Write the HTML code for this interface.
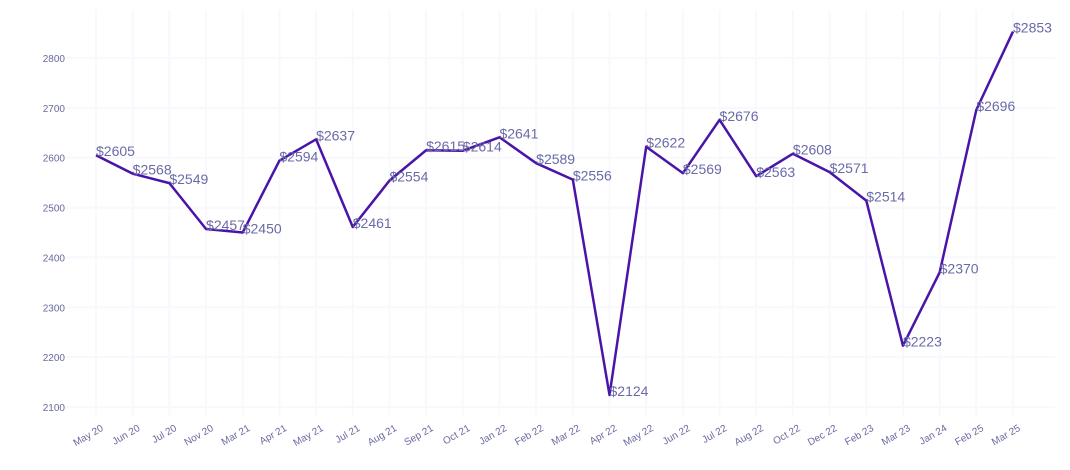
<!DOCTYPE html>
<html><head><meta charset="utf-8"><style>
body{margin:0;background:#fff;font-family:"Liberation Sans",sans-serif}
</style></head><body>
<svg id="chart" width="1070" height="465" xmlns="http://www.w3.org/2000/svg"></svg>
<script>
const categories=["May 20","Jun 20","Jul 20","Nov 20","Mar 21","Apr 21","May 21","Jul 21","Aug 21","Sep 21","Oct 21","Jan 22","Feb 22","Mar 22","Apr 22","May 22","Jun 22","Jul 22","Aug 22","Oct 22","Dec 22","Feb 23","Mar 23","Jan 24","Feb 25","Mar 25"];
const values=[2605,2568,2549,2457,2450,2594,2637,2461,2554,2615,2614,2641,2589,2556,2124,2622,2569,2676,2563,2608,2571,2514,2223,2370,2696,2853];
const yTicks=[2100,2200,2300,2400,2500,2600,2700,2800];
const svg=document.getElementById('chart');
const NS='http://www.w3.org/2000/svg';
const x0=96,x1=1013;
const xs=i=>x0+i*(x1-x0)/(categories.length-1);
const ys=v=>407-(v-2100)*(407-58)/700;
function mk(t,a){const e=document.createElementNS(NS,t);for(const k in a)e.setAttribute(k,a[k]);svg.appendChild(e);return e;}
yTicks.forEach(t=>{
  const l=mk('line',{x1:50,x2:1055,y1:ys(t),y2:ys(t),stroke:'#f8f8fd','stroke-width':2});
  
  
  const tx=mk('text',{x:65,y:ys(t)+4,'text-anchor':'end','font-size':10,fill:'#6a6aa0'});
  tx.textContent=t;
  
  
});
categories.forEach((c,i)=>{
  const l=mk('line',{x1:xs(i),x2:xs(i),y1:10,y2:415,stroke:'#f8f8fd','stroke-width':2});
  
  
  const tx=mk('text',{x:xs(i)+8,y:430,'text-anchor':'end','font-size':10,fill:'#6a6aa0',transform:`rotate(-30 ${xs(i)+8} 430)`});
  tx.textContent=c;
  
  
});
const p=mk('polyline',{points:values.map((v,i)=>xs(i)+','+ys(v)).join(' '),fill:'none',stroke:'#4a14a8','stroke-width':2.5,'stroke-linejoin':'round'});


values.forEach((v,i)=>{
  const tx=mk('text',{x:xs(i),y:ys(v)+1,'font-size':14,fill:'#6a6aa8'});
  tx.textContent='$'+v;
  
  
});
</script>
</body></html>
